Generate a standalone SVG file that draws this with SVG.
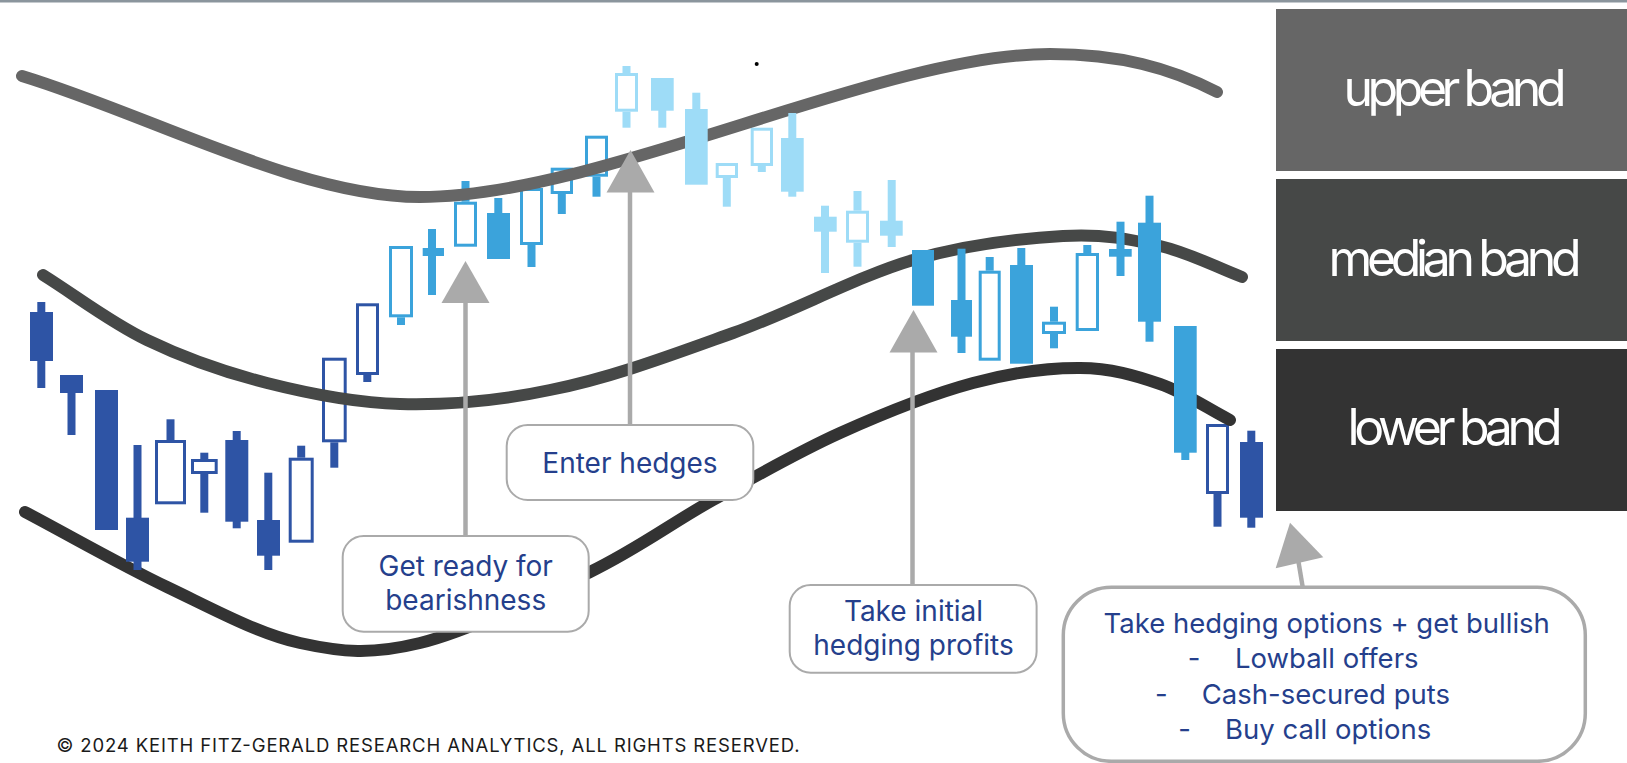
<svg xmlns="http://www.w3.org/2000/svg" width="1627" height="763" viewBox="0 0 1627 763">
<style>
.d{fill:#2e54a5}.m{fill:#3ba3db}.l{fill:#9edcf7}
.hd{fill:none;stroke:#2e54a5;stroke-width:3}
.hm{fill:none;stroke:#3ba3db;stroke-width:3}
.hl{fill:none;stroke:#9edcf7;stroke-width:3}
.band{fill:none;stroke-width:12;stroke-linecap:round}
.box{fill:#fff;stroke:#aaaaaa;stroke-width:2}
.lbl{font-family:Inter,"Liberation Sans",sans-serif;fill:#253f8c;font-size:28px;text-anchor:middle}
.lbl2{font-family:Inter,"Liberation Sans",sans-serif;fill:#253f8c;font-size:27.5px}
.bt{font-family:Inter,"Liberation Sans",sans-serif;fill:#ffffff;font-size:50px;text-anchor:middle}
.arr{fill:#aaaaaa}
.shaft{stroke:#aaaaaa;stroke-width:4.5;fill:none}
</style>
<rect x="0" y="0" width="1627" height="763" fill="#ffffff"/>
<rect x="0" y="0" width="1627" height="2.5" fill="#8b959d"/>

<g id="legend">
  <g id="upper-band-label">
    <rect x="1276" y="9" width="351" height="162" fill="#666666"/>
    <text class="bt" x="1455" y="106" textLength="223">upper band</text>
  </g>
  <g id="median-band-label">
    <rect x="1276" y="179" width="351" height="162" fill="#464847"/>
    <text class="bt" x="1455" y="276" textLength="253">median band</text>
  </g>
  <g id="lower-band-label">
    <rect x="1276" y="349" width="351" height="162" fill="#333333"/>
    <text class="bt" x="1455" y="445" textLength="215">lower band</text>
  </g>
</g>

<g id="hollow-candles">
  <rect class="hd" x="156.5" y="441.5" width="28" height="61.3"/><rect class="d" x="166.5" y="419.3" width="8" height="20.7"/>
  <rect class="hd" x="192.5" y="460.5" width="23.7" height="12"/><rect class="d" x="200.3" y="452.7" width="8" height="6.3"/><rect class="d" x="200.3" y="474" width="8" height="38.7"/>
  <rect class="hd" x="290.2" y="459.2" width="22" height="82"/><rect class="d" x="297.2" y="445.7" width="8" height="12"/>
  <rect class="hd" x="323.5" y="359.2" width="21.7" height="81.6"/><rect class="d" x="330.3" y="442.3" width="8" height="25.4"/>
  <rect class="hd" x="357.5" y="304.8" width="20" height="68.7"/><rect class="d" x="363.3" y="375" width="8" height="7"/>
  <rect class="hd" x="1207.5" y="425.5" width="20" height="67"/><rect class="d" x="1213.5" y="494" width="8" height="32.7"/>
  <rect class="hm" x="390.5" y="247.5" width="21" height="68.3"/><rect class="m" x="397" y="317.3" width="8" height="7.7"/>
  <rect class="hm" x="455.5" y="203.2" width="20" height="42"/><rect class="m" x="461.5" y="181" width="8" height="20.7"/>
  <rect class="hm" x="521.5" y="189.5" width="20" height="54"/><rect class="m" x="527.5" y="245" width="8" height="22"/>
  <rect class="hm" x="552.2" y="169.2" width="19.3" height="23.3"/><rect class="m" x="557.8" y="194" width="8" height="20"/>
  <rect class="hm" x="586.5" y="137.2" width="20" height="38"/><rect class="m" x="592.5" y="176.7" width="8" height="20"/>
  <rect class="hm" x="980.2" y="272.2" width="19" height="87"/><rect class="m" x="985.7" y="257" width="8" height="13.7"/>
  <rect class="hm" x="1043.5" y="323.2" width="21" height="9.3"/><rect class="m" x="1050" y="306.7" width="8" height="15"/><rect class="m" x="1050" y="334" width="8" height="14.3"/>
  <rect class="hm" x="1077.2" y="254.5" width="20.3" height="75"/><rect class="m" x="1083.3" y="245" width="8" height="8"/>
  <rect class="hl" x="616.5" y="74.5" width="20" height="35.7"/><rect class="l" x="622.5" y="66" width="8" height="7"/><rect class="l" x="622.5" y="111.7" width="8" height="16"/>
  <rect class="hl" x="717.2" y="164.5" width="19.3" height="12"/><rect class="l" x="722.8" y="178" width="8" height="28.7"/>
  <rect class="hl" x="752.2" y="129.2" width="19.3" height="35.3"/><rect class="l" x="757.8" y="166" width="8" height="6"/>
  <rect class="hl" x="847.5" y="212.2" width="20" height="29"/><rect class="l" x="853.5" y="191" width="8" height="19.7"/><rect class="l" x="853.5" y="242.7" width="8" height="24"/>
</g>

<g id="bands">
  <path id="upper-band" class="band" stroke="#666666" d="M22,76 C150,115 300,197 420,197 C600,197 880,54 1050,54 C1120,54 1170,68 1217,92"/>
  <path id="median-band" class="band" stroke="#464847" d="M43,275 C77.7,296.7 109.7,322 147,340 C184.3,358 224.8,372.3 267,383 C309.2,393.7 352.8,402.8 400,404 C447.2,405.2 494.5,401.8 550,390 C610.5,378.2 672.5,354.7 733,333 C793.5,311.3 858,276.2 913,260 C968,243.8 1021.8,238.3 1063,236 C1104.2,233.7 1130.2,239.2 1160,246 C1189.8,252.8 1214.7,266.7 1242,277"/>
  <path id="lower-band" class="band" stroke="#333333" d="M25,512 C72.3,537 121.2,565.2 167,587 C212.8,608.8 257.8,633.7 300,643 C342.2,652.3 371.7,654.8 420,643 C468.3,631.2 541.2,595.8 590,572 C638.8,548.2 671.3,523.2 713,500 C754.7,476.8 796.7,452.5 840,433 C883.3,413.5 933,393.8 973,383 C1013,372.2 1048.8,367.8 1080,368 C1111.2,368.2 1135,375.3 1160,384 C1185,392.7 1206.7,408 1230,420"/>
</g>

<g id="filled-candles">
  <rect class="d" x="37.3" y="302" width="8" height="86"/><rect class="d" x="30" y="312" width="23" height="49"/>
  <rect class="d" x="67.5" y="375" width="8" height="60"/><rect class="d" x="60" y="375" width="23" height="18"/>
  <rect class="d" x="95" y="390" width="23" height="140"/>
  <rect class="d" x="133.5" y="445" width="8" height="125"/><rect class="d" x="126" y="517.7" width="23" height="44"/>
  <rect class="d" x="232.7" y="431" width="8" height="97.3"/><rect class="d" x="225.3" y="440" width="23" height="81.7"/>
  <rect class="d" x="264.3" y="472.7" width="8" height="97.3"/><rect class="d" x="257" y="520" width="23" height="35.7"/>
  <rect class="d" x="1247.3" y="430.7" width="8" height="97"/><rect class="d" x="1240" y="442" width="23" height="75.7"/>
  <rect class="m" x="428" y="229" width="8" height="66"/><rect class="m" x="422.7" y="248" width="21.3" height="8"/>
  <rect class="m" x="494.3" y="198" width="8" height="15"/><rect class="m" x="487" y="213" width="23" height="46"/>
  <rect class="m" x="912" y="250" width="22" height="55.7"/>
  <rect class="m" x="957.5" y="248.7" width="8" height="104.3"/><rect class="m" x="951" y="300" width="21" height="36.7"/>
  <rect class="m" x="1017.3" y="248" width="8" height="17"/><rect class="m" x="1010" y="265" width="23" height="98.7"/>
  <rect class="m" x="1116.5" y="221.7" width="8" height="54.3"/><rect class="m" x="1109" y="249" width="22.7" height="7.7"/>
  <rect class="m" x="1145.5" y="195.7" width="8" height="146"/><rect class="m" x="1138" y="222.7" width="23" height="99"/>
  <rect class="m" x="1181.3" y="326" width="8" height="134"/><rect class="m" x="1174" y="326" width="22.7" height="126.7"/>
  <rect class="l" x="658.3" y="78" width="8" height="49.7"/><rect class="l" x="651" y="78" width="22.7" height="32.7"/>
  <rect class="l" x="692.3" y="92.7" width="8" height="20"/><rect class="l" x="685" y="109" width="22.7" height="75.7"/>
  <rect class="l" x="788.3" y="113" width="8" height="83.7"/><rect class="l" x="781" y="138" width="22.7" height="53.7"/>
  <rect class="l" x="821" y="205.7" width="8" height="67.3"/><rect class="l" x="814" y="216.7" width="22.7" height="15"/>
  <rect class="l" x="887.7" y="180" width="8" height="67"/><rect class="l" x="880" y="220.7" width="22.7" height="15"/>
</g>
<circle cx="756.7" cy="64" r="2" fill="#000000"/>

<g id="connectors">
  <line class="shaft" x1="465.5" y1="536" x2="465.5" y2="300"/>
  <polygon class="arr" points="465.5,261 441.5,303 489.5,303"/>
  <line class="shaft" x1="630" y1="425" x2="630" y2="190"/>
  <polygon class="arr" points="630.5,150 606.5,192.5 654.5,192.5"/>
  <line class="shaft" x1="912.5" y1="585" x2="912.5" y2="350"/>
  <polygon class="arr" points="913.5,310 889.5,352.5 937.5,352.5"/>
  <line class="shaft" x1="1302.7" y1="587" x2="1298.5" y2="562"/>
  <polygon class="arr" points="1290,522.7 1275.7,568.3 1323.3,557.3"/>
</g>

<g id="node-get-ready">
  <rect class="box" x="342.7" y="536" width="246" height="95.7" rx="21"/>
  <text class="lbl" x="465.7" y="575.7">Get ready for</text>
  <text class="lbl" x="465.7" y="610">bearishness</text>
</g>
<g id="node-enter-hedges">
  <rect class="box" x="506.7" y="425" width="246.6" height="75" rx="21"/>
  <text class="lbl" x="630" y="472.7">Enter hedges</text>
</g>
<g id="node-take-initial">
  <rect class="box" x="789.7" y="585" width="246.9" height="87.7" rx="21"/>
  <text class="lbl" x="913.5" y="620.7">Take initial</text>
  <text class="lbl" x="913.5" y="655">hedging profits</text>
</g>
<g id="node-take-hedging">
  <rect x="1063.3" y="587.3" width="522" height="174" rx="48" fill="#fff" stroke="#aaaaaa" stroke-width="3.5"/>
  <text class="lbl2" x="1326.7" y="633.3" text-anchor="middle">Take hedging options + get bullish</text>
  <text class="lbl2" x="1187.7" y="668.3">-</text><text class="lbl2" x="1235" y="668.3">Lowball offers</text>
  <text class="lbl2" x="1155" y="704">-</text><text class="lbl2" x="1201.7" y="704">Cash-secured puts</text>
  <text class="lbl2" x="1178.3" y="739.3">-</text><text class="lbl2" x="1225" y="739.3">Buy call options</text>
</g>

<text x="56.5" y="752.3" font-family="Inter,'Liberation Sans',sans-serif" font-size="18.5" fill="#1a1a1a" textLength="743">© 2024 KEITH FITZ-GERALD RESEARCH ANALYTICS, ALL RIGHTS RESERVED.</text>
</svg>
